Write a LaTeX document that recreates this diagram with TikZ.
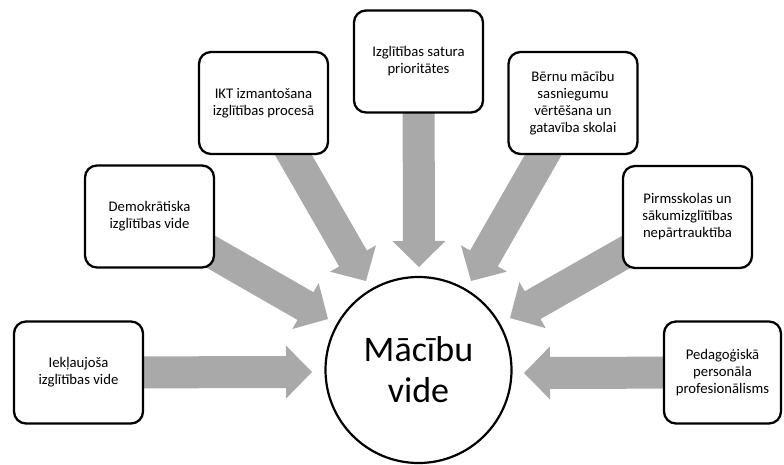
\documentclass[tikz,border=0pt]{standalone}
\usepackage{fontspec}
\setmainfont{Carlito}
\usetikzlibrary{calc}
\pgfdeclarelayer{bg}
\pgfsetlayers{bg,main}
\definecolor{arrowgray}{HTML}{A9A9A9}
\tikzset{
  box/.style={draw=black, line width=2.3pt, rounded corners=12pt, fill=white,
    minimum width=129pt, minimum height=102pt, align=center, inner sep=0pt,
    font=\fontsize{14.7pt}{17pt}\selectfont},
  hub/.style={draw=black, line width=2.2pt, circle, fill=white, minimum size=186pt,
    align=center, inner sep=0pt, font=\fontsize{36pt}{41pt}\selectfont},
  arrowfill/.style={fill=arrowgray, draw=none}
}
% block arrow: shaft half width 16pt, head half width 26.5pt, head length 26pt
\newcommand\blockarrow[2]{%
  \fill[arrowfill] ($(#1)!16pt!90:(#2)$)
    -- ($(#2)!26pt!(#1)!16pt!90:(#2)$)
    -- ($(#2)!26pt!(#1)!26.5pt!90:(#2)$)
    -- (#2)
    -- ($(#2)!26pt!(#1)!26.5pt!-90:(#2)$)
    -- ($(#2)!26pt!(#1)!16pt!-90:(#2)$)
    -- ($(#1)!16pt!-90:(#2)$) -- cycle;}
\begin{document}
\begin{tikzpicture}[x=1pt,y=-1pt]
\useasboundingbox (0,0) rectangle (784,464);
% boxes
\node[box] (b1) at (78.5,372.5) {Iekļaujoša\\izglītības vide};
\node[box] (b2) at (149.5,216.5) {Demokrātiska\\izglītības vide};
\node[box] (b3) at (263.5,103) {IKT izmantošana\\izglītības procesā};
\node[box] (b4) at (418.5,61.5) {Izglītības satura\\prioritātes};
\node[box] (b5) at (573,103) {Bērnu mācību\\sasniegumu\\vērtēšana un\\gatavība skolai};
\node[box] (b6) at (687.5,217) {Pirmsskolas un\\sākumizglītības\\nepārtrauktība};
\node[box, minimum width=117pt] (b7) at (722.5,372.5) {Pedagoģiskā\\personāla\\profesionālisms};
% hub
\node[hub] (hub) at (418.5,370) {Mācību\\vide};
% arrow tips
\coordinate (t1) at (312,372);
\coordinate (t2) at (328,319);
\coordinate (t3) at (366,281);
\coordinate (t4) at (419,267);
\coordinate (t5) at (471,281);
\coordinate (t6) at (510,318);
\coordinate (t7) at (524,373);
\begin{pgfonlayer}{bg}
\blockarrow{b1.center}{t1}
\blockarrow{b2.center}{t2}
\blockarrow{b3.center}{t3}
\blockarrow{b4.center}{t4}
\blockarrow{b5.center}{t5}
\blockarrow{b6.center}{t6}
\blockarrow{b7.center}{t7}
\end{pgfonlayer}
\end{tikzpicture}
\end{document}
